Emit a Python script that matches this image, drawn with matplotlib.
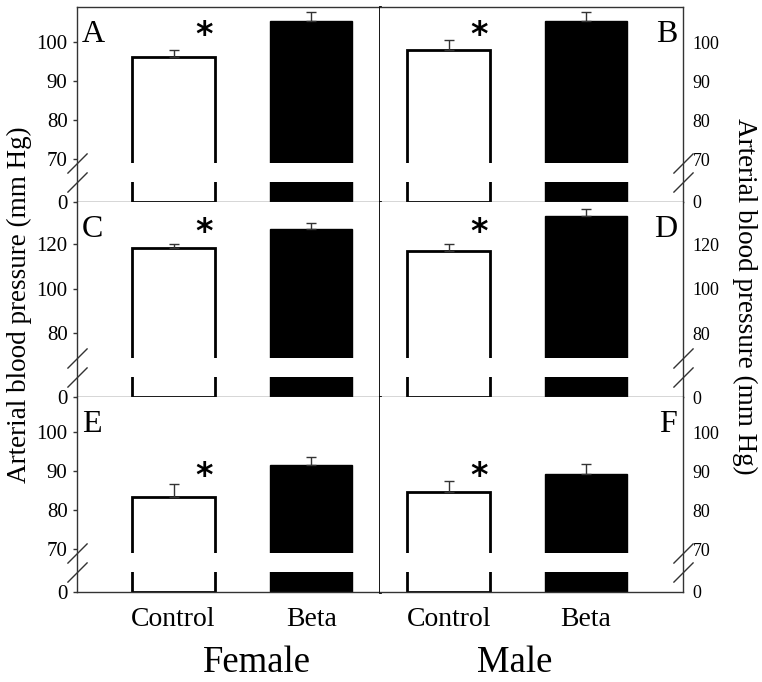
import numpy as np
import matplotlib
matplotlib.use("Agg")
import matplotlib.pyplot as plt
from matplotlib.transforms import blended_transform_factory

plt.rcParams['font.family'] = ['Liberation Serif', 'DejaVu Serif']

# ---------------- data ----------------
groups = ["Control", "Beta"]
sexes = ["Female", "Male"]
panel_letters = [["A", "B"], ["C", "D"], ["E", "F"]]

female_control = [96.2, 118.2, 83.3]
female_control_err = [1.9, 2.1, 3.5]
female_beta = [105.4, 126.9, 91.5]
female_beta_err = [2.2, 2.5, 2.1]

male_control = [97.9, 117.0, 84.7]
male_control_err = [2.6, 3.3, 2.8]
male_beta = [105.4, 132.7, 89.2]
male_beta_err = [2.2, 3.3, 2.7]

row_ymax = [109, 139, 109]
row_ticks = [[0, 70, 80, 90, 100], [0, 80, 100, 120], [0, 70, 80, 90, 100]]
asterisk_y = [101.8, 125.5, 88.5]
break_lo, break_hi = 5, 69

ylabel = "Arterial blood pressure (mm Hg)"

# ---------------- layout ----------------
W, H = 762, 682
fig = plt.figure(figsize=(W / 100, H / 100), dpi=100)

col_left_px = [77.3, 380.0]
col_w_px = 302.7
row_top_px = [7, 202, 397]
row_h_px = 195

# piecewise-linear y scale (broken axis)
STUB, GAP, UPPER = 20.0, 19.0, 156.0


def make_scale(ymax):
    k = UPPER / (ymax - break_hi)

    def fwd(v):
        v = np.asarray(v, dtype=float)
        return np.where(v <= break_lo, v * STUB / break_lo,
                        np.where(v <= break_hi,
                                 STUB + (v - break_lo) * GAP / (break_hi - break_lo),
                                 STUB + GAP + (v - break_hi) * k))

    def inv(u):
        u = np.asarray(u, dtype=float)
        return np.where(u <= STUB, u * break_lo / STUB,
                        np.where(u <= STUB + GAP,
                                 break_lo + (u - STUB) * (break_hi - break_lo) / GAP,
                                 break_hi + (u - STUB - GAP) / k))
    return fwd, inv


xpos = np.array([0.0, 1.0])
bar_w = 0.60
xlims = [(-0.70, 1.50), (-0.50, 1.705)]
spine_col = '#333333'

data = {
    0: (female_control, female_control_err, female_beta, female_beta_err),
    1: (male_control, male_control_err, male_beta, male_beta_err),
}

for r in range(3):
    for c in range(2):
        left = col_left_px[c] / W
        bottom = 1 - (row_top_px[r] + row_h_px) / H
        ax = fig.add_axes([left, bottom, col_w_px / W, row_h_px / H])
        fwd, inv = make_scale(row_ymax[r])
        ax.set_yscale('function', functions=(fwd, inv))
        ax.set_ylim(0, row_ymax[r])
        ax.set_xlim(*xlims[c])

        ctrl, ctrl_e, beta, beta_e = data[c]
        vals = [ctrl[r], beta[r]]
        errs = [ctrl_e[r], beta_e[r]]

        ax.bar(xpos[0], vals[0], width=bar_w, facecolor='white',
               edgecolor='black', linewidth=2.0, zorder=2)
        ax.bar(xpos[1], vals[1], width=bar_w, facecolor='black',
               edgecolor='black', linewidth=1.0, zorder=2)
        # white break gap across the bars
        ax.bar(xpos, break_hi - break_lo, bottom=break_lo, width=bar_w + 0.04,
               color='white', linewidth=0, zorder=3)
        ax.errorbar(xpos, vals, yerr=[np.zeros(2), errs], fmt='none',
                    ecolor=spine_col, elinewidth=1.0, capsize=3.5,
                    capthick=1.0, zorder=4)

        # asterisk
        ax.text(xpos[0] + 0.22, asterisk_y[r], "*", fontsize=24,
                fontweight='bold', family='DejaVu Sans', ha='center',
                va='center', zorder=5)

        # panel letter
        if c == 0:
            ax.text(0.016, 0.86, panel_letters[r][c], transform=ax.transAxes,
                    fontsize=23, ha='left', va='center')
        else:
            ax.text(0.982, 0.86, panel_letters[r][c], transform=ax.transAxes,
                    fontsize=23, ha='right', va='center')

        # spines
        for s in ax.spines.values():
            s.set_color(spine_col)
            s.set_linewidth(1.0)
        ax.spines['top'].set_visible(r == 0)
        if c == 0:
            ax.spines['right'].set_color('black')
            ax.spines['right'].set_linewidth(2.0)
            ax.spines['right'].set_zorder(6)
        else:
            ax.spines['left'].set_visible(False)

        ax.set_yticks(row_ticks[r])
        ax.set_yticklabels([str(t) for t in row_ticks[r]])
        ax.minorticks_off()
        if c == 0:
            ax.yaxis.tick_left()
            ax.tick_params(axis='y', length=3, width=1, color=spine_col,
                           pad=4, labelsize=15, direction='out')
        else:
            ax.yaxis.tick_right()
            ax.tick_params(axis='y', length=0, pad=7, labelsize=13)

        if r == 2:
            ax.set_xticks(xpos)
            ax.set_xticklabels(groups)
            ax.tick_params(axis='x', length=0, pad=11, labelsize=20)
        else:
            ax.set_xticks([])

        # broken-axis slashes
        xs = 0 if c == 0 else 1
        trans = blended_transform_factory(ax.transAxes, ax.transData)
        ax.plot([xs, xs], [break_hi, break_lo], linestyle='none',
                marker=[(-1, -1), (1, 1)], markersize=14.5,
                markeredgewidth=1.0, color=spine_col,
                transform=trans, clip_on=False, zorder=7)

# axis labels
fig.text(0.026, 0.553, ylabel, rotation=90, ha='center', va='center',
         fontsize=19.5)
fig.text(0.977, 0.565, ylabel, rotation=270, ha='center', va='center',
         fontsize=19.5)

fig.text(257 / W, 1 - 680 / H, sexes[0], ha='center', va='bottom',
         fontsize=26.5)
fig.text(515 / W, 1 - 680 / H, sexes[1], ha='center', va='bottom',
         fontsize=26.5)

fig.savefig("out.png", dpi=100)
